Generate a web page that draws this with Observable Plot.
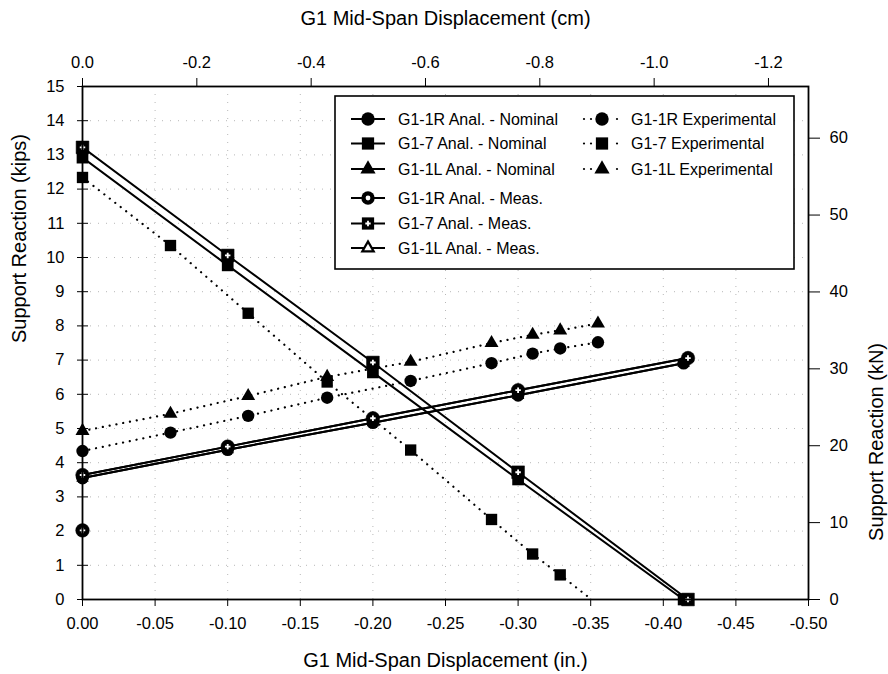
<!DOCTYPE html>
<html><head><meta charset="utf-8">
<script src="https://cdn.jsdelivr.net/npm/d3@7"></script>
<script src="https://cdn.jsdelivr.net/npm/@observablehq/plot@0.6"></script>
<style>
body{margin:0;background:#fff;font-family:"Liberation Sans",Arial,sans-serif;}
#wrap{position:relative;width:888px;height:674px;}
#wrap svg.legend{position:absolute;left:0;top:0;pointer-events:none;}
</style></head><body><div id="wrap"></div>
<script>
// ---- data (inches, kips) ----
const anaXNom  = [0, -0.1, -0.2, -0.3, -0.414];
const anaXMeas = [0, -0.1, -0.2, -0.3, -0.417];
const g11RNom  = [3.55, 4.38, 5.17, 5.97, 6.91];
const g17Nom   = [12.92, 9.77, 6.64, 3.51, 0];
const g11LNom  = [3.55, 4.38, 5.17, 5.97, 6.91];
const g11RMeas = [3.64, 4.47, 5.30, 6.12, 7.06];
const g17Meas  = [13.22, 10.06, 6.93, 3.72, 0];
const g11LMeas = [3.64, 4.47, 5.30, 6.12, 7.06];
const extraMeasX = [0];
const extraMeasY = [2.02];
const expX    = [0, -0.0606, -0.1141, -0.1685, -0.226, -0.2817, -0.310, -0.329, -0.355];
const g11RExp = [4.34, 4.88, 5.37, 5.90, 6.39, 6.91, 7.19, 7.34, 7.52];
const g11LExp = [4.93, 5.43, 5.95, 6.51, 6.95, 7.50, 7.74, 7.87, 8.07];
const g17ExpX = [0, -0.0606, -0.1141, -0.1685, -0.226, -0.2817, -0.310, -0.329, -0.359];
const g17Exp  = [12.34, 10.35, 8.37, 6.36, 4.37, 2.34, 1.33, 0.72, -0.28];
// ---- ticks ----
const xTicksIn = [0, -0.05, -0.10, -0.15, -0.20, -0.25, -0.30, -0.35, -0.40, -0.45, -0.50];
const xTicksCm = [0, -0.2, -0.4, -0.6, -0.8, -1.0, -1.2];
const yTicksKips = [0,1,2,3,4,5,6,7,8,9,10,11,12,13,14,15];
const yTicksKN = [0, 10, 20, 30, 40, 50, 60];
const CM_PER_IN = 2.54, KN_PER_KIP = 4.448;
const titleTop = "G1 Mid-Span Displacement (cm)";
const titleBottom = "G1 Mid-Span Displacement (in.)";
const titleLeft = "Support Reaction (kips)";
const titleRight = "Support Reaction (kN)";

const rows = (xs, ys) => xs.map((x, i) => ({x, y: ys[i]}));
const FONT = '"Liberation Sans", Arial, sans-serif';

const dotted = {x: "x", y: "y", stroke: "black", strokeWidth: 2.2, strokeDasharray: "0.1,6.8", strokeLinecap: "round", clip: true};
const solid = {x: "x", y: "y", stroke: "black", strokeWidth: 2, clip: true};

function measMarks(data, symbol, r) {
  return [
    Plot.dot(data, {x: "x", y: "y", symbol, r, fill: "black", stroke: "black", strokeWidth: 0.5}),
    Plot.dot(data, {x: "x", y: "y", symbol: "cross", r: 2.3, fill: "white"})
  ];
}

const plot = Plot.plot({
  width: 888, height: 674,
  marginLeft: 82, marginRight: 80, marginTop: 86, marginBottom: 75,
  style: {fontFamily: FONT, fontSize: "16px", color: "black", background: "white"},
  x: {domain: [0, -0.5]},
  y: {domain: [0, 15]},
  marks: [
    Plot.gridX(xTicksIn, {stroke: "#888", strokeOpacity: 0.6, strokeDasharray: "1,7"}),
    Plot.gridY(yTicksKips, {stroke: "#888", strokeOpacity: 0.6, strokeDasharray: "1,7"}),
    Plot.axisX(xTicksIn, {anchor: "bottom", tickFormat: d => d.toFixed(2), tickSize: 7, tickPadding: 11, label: null, fontSize: 16.5}),
    Plot.axisX(xTicksCm.map(c => c / CM_PER_IN), {anchor: "top", tickFormat: d => (d * CM_PER_IN).toFixed(1), tickSize: 9, tickPadding: 10, label: null, fontSize: 16.5}),
    Plot.axisY(yTicksKips, {anchor: "left", tickSize: 5, tickPadding: 13, label: null, fontSize: 16.5}),
    Plot.axisY(yTicksKN.map(k => k / KN_PER_KIP), {anchor: "right", tickFormat: d => Math.round(d * KN_PER_KIP), tickSize: 11, tickPadding: 10, label: null, fontSize: 16.5}),
    Plot.tickY(yTicksKips, {y: d => d, stroke: "black", strokeWidth: 1, insetRight: 720}),
    Plot.text([titleTop], {text: d => d, frameAnchor: "top", dy: -68, fontSize: 20, lineAnchor: "middle"}),
    Plot.text([titleBottom], {text: d => d, frameAnchor: "bottom", dy: 61, fontSize: 20, lineAnchor: "middle"}),
    Plot.text([titleLeft], {text: d => d, frameAnchor: "left", dx: -63, rotate: -90, fontSize: 20, lineAnchor: "middle"}),
    Plot.text([titleRight], {text: d => d, frameAnchor: "right", dx: 68, rotate: -90, fontSize: 20, lineAnchor: "middle"}),
    // experimental (dotted)
    Plot.line(rows(expX, g11RExp), dotted),
    Plot.line(rows(expX, g11LExp), dotted),
    Plot.line(rows(g17ExpX, g17Exp), dotted),
    Plot.dot(rows(expX, g11LExp), {x: "x", y: "y", symbol: "triangle", r: 5.2, fill: "black"}),
    Plot.dot(rows(expX, g11RExp), {x: "x", y: "y", symbol: "circle", r: 6.2, fill: "black"}),
    Plot.dot(rows(g17ExpX, g17Exp).filter(d => d.y > 0), {x: "x", y: "y", symbol: "square", r: 6.4, fill: "black"}),
    // analytical nominal
    Plot.line(rows(anaXNom, g11LNom), solid),
    Plot.line(rows(anaXNom, g11RNom), solid),
    Plot.line(rows(anaXNom, g17Nom), solid),
    Plot.dot(rows(anaXNom, g11LNom), {x: "x", y: "y", symbol: "triangle", r: 4.6, fill: "black"}),
    Plot.dot(rows(anaXNom, g11RNom), {x: "x", y: "y", symbol: "circle", r: 6.3, fill: "black"}),
    Plot.dot(rows(anaXNom, g17Nom), {x: "x", y: "y", symbol: "square", r: 6.6, fill: "black"}),
    // analytical measured
    Plot.line(rows(anaXMeas, g11LMeas), solid),
    Plot.line(rows(anaXMeas, g11RMeas), solid),
    Plot.line(rows(anaXMeas, g17Meas), solid),
    Plot.dot(rows(anaXMeas, g11LMeas), {x: "x", y: "y", symbol: "triangle", r: 4.6, fill: "black"}),
    ...measMarks(rows(anaXMeas, g11RMeas), "circle", 6.8),
    ...measMarks(rows(extraMeasX, extraMeasY), "circle", 6.8),
    ...measMarks(rows(anaXMeas, g17Meas), "square", 7.2),
    Plot.frame({stroke: "black", strokeWidth: 1.8})
  ]
});
const wrap = document.getElementById("wrap");
wrap.appendChild(plot);

// ---- legend overlay ----
const legendLeft = [
  {label: "G1-1R Anal. - Nominal", sym: d3.symbolCircle, meas: false},
  {label: "G1-7 Anal. - Nominal", sym: d3.symbolSquare, meas: false},
  {label: "G1-1L Anal. - Nominal", sym: d3.symbolTriangle, meas: false},
  {label: "G1-1R Anal. - Meas.", sym: d3.symbolCircle, meas: true},
  {label: "G1-7 Anal. - Meas.", sym: d3.symbolSquare, meas: true},
  {label: "G1-1L Anal. - Meas.", sym: d3.symbolTriangle, meas: true}
];
const legendRight = [
  {label: "G1-1R Experimental", sym: d3.symbolCircle},
  {label: "G1-7 Experimental", sym: d3.symbolSquare},
  {label: "G1-1L Experimental", sym: d3.symbolTriangle}
];
const rowY = [119, 143.5, 169, 198, 223.5, 248];
const svg = d3.select(wrap).append("svg").attr("class", "legend")
  .attr("width", 888).attr("height", 674)
  .style("font-family", FONT).style("font-size", "16px");
svg.append("rect").attr("x", 335).attr("y", 96).attr("width", 459).attr("height", 173)
  .attr("fill", "white").attr("stroke", "black").attr("stroke-width", 1.6);
const size = s => s === d3.symbolSquare ? 150 : s === d3.symbolTriangle ? 100 : 140;
legendLeft.forEach((d, i) => {
  const y = rowY[i], cx = 368;
  svg.append("line").attr("x1", 351).attr("x2", 385).attr("y1", y).attr("y2", y).attr("stroke", "black").attr("stroke-width", 2);
  const g = svg.append("g").attr("transform", `translate(${cx},${y})`);
  g.append("path").attr("d", d3.symbol(d.sym, size(d.sym))()).attr("fill", "black");
  if (d.meas) {
    if (d.sym === d3.symbolTriangle) g.append("path").attr("d", d3.symbol(d3.symbolTriangle, 24)()).attr("fill", "white");
    else if (d.sym === d3.symbolCircle) g.append("circle").attr("r", 2.4).attr("fill", "white");
    else g.append("path").attr("d", d3.symbol(d3.symbolCross, 16)()).attr("fill", "white");
  }
  svg.append("text").attr("x", 398).attr("y", y + 5.8).text(d.label);
});
legendRight.forEach((d, i) => {
  const y = rowY[i];
  [584, 591, 617].forEach(x => svg.append("circle").attr("cx", x).attr("cy", y).attr("r", 1.1).attr("fill", "black"));
  svg.append("path").attr("transform", `translate(602,${y})`).attr("d", d3.symbol(d.sym, size(d.sym))()).attr("fill", "black");
  svg.append("text").attr("x", 631).attr("y", y + 5.8).text(d.label);
});
</script></body></html>
